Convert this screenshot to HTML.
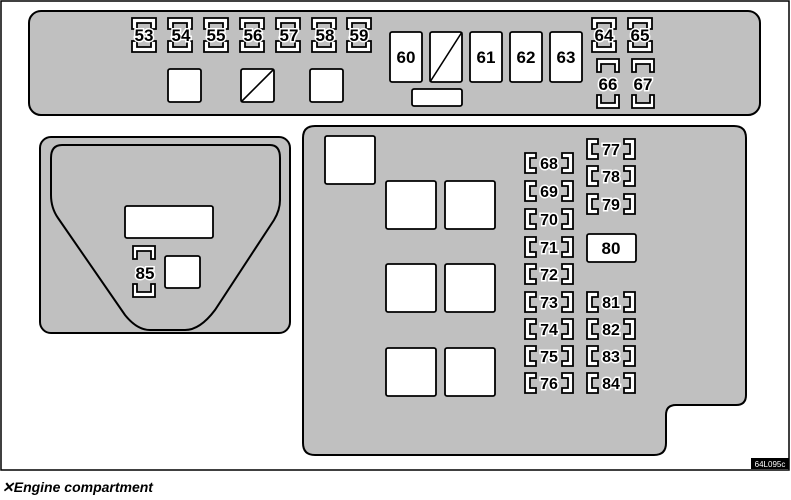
<!DOCTYPE html>
<html><head><meta charset="utf-8"><style>
body{margin:0;background:#fff;}
svg{display:block;}
text{font-family:"Liberation Sans",Arial,sans-serif;font-weight:bold;}
.n{font-size:17px;text-anchor:middle;stroke:#fff;stroke-width:3px;paint-order:stroke;fill:#000;}
.s{font-size:16px;text-anchor:middle;stroke:#fff;stroke-width:3px;paint-order:stroke;fill:#000;}
.b{fill:#fff;stroke:#000;stroke-width:1.8;}
</style></head><body>
<svg width="791" height="500" viewBox="0 0 791 500" xmlns="http://www.w3.org/2000/svg">
<defs>
<path id="T" d="M0,0 H24 V11 H19 V5 H5 V11 H0 Z" class="b"/>
<path id="U" d="M0,0 H5 V6 H19 V0 H24 V11 H0 Z" class="b"/>
<path id="TV" d="M0,0 H22 V13 H18 V5 H4 V13 H0 Z" class="b"/>
<path id="UV" d="M0,0 H4 V8 H18 V0 H22 V13 H0 Z" class="b"/>
<path id="L" d="M0,0 H11 V5 H5 V15 H11 V20 H0 Z" class="b"/>
<path id="R" d="M0,0 H11 V20 H0 V15 H6 V5 H0 Z" class="b"/>
</defs>
<rect x="1" y="1" width="788" height="469" fill="#fff" stroke="#000" stroke-width="1.5"/>
<rect x="29" y="11" width="731" height="104" rx="12" fill="#c0c0c0" stroke="#000" stroke-width="2"/>
<g>
<use href="#T" x="132" y="18"/><use href="#U" x="132" y="41"/><text class="n" x="144" y="41">53</text>
<use href="#T" x="168" y="18"/><use href="#U" x="168" y="41"/><text class="n" x="181" y="41">54</text>
<use href="#T" x="204" y="18"/><use href="#U" x="204" y="41"/><text class="n" x="216" y="41">55</text>
<use href="#T" x="240" y="18"/><use href="#U" x="240" y="41"/><text class="n" x="253" y="41">56</text>
<use href="#T" x="276" y="18"/><use href="#U" x="276" y="41"/><text class="n" x="289" y="41">57</text>
<use href="#T" x="312" y="18"/><use href="#U" x="312" y="41"/><text class="n" x="325" y="41">58</text>
<use href="#T" x="347" y="18"/><use href="#U" x="347" y="41"/><text class="n" x="359" y="41">59</text>
</g>
<rect x="168" y="69" width="33" height="33" rx="2" class="b"/>
<rect x="241" y="69" width="33" height="33" rx="2" class="b"/><line x1="241" y1="102" x2="274" y2="69" stroke="#000" stroke-width="1.6"/>
<rect x="310" y="69" width="33" height="33" rx="2" class="b"/>
<rect x="390" y="32" width="32" height="50" rx="2" class="b"/><text class="n" x="406" y="63">60</text>
<rect x="430" y="32" width="32" height="50" rx="2" class="b"/><line x1="430" y1="82" x2="462" y2="32" stroke="#000" stroke-width="1.6"/>
<rect x="470" y="32" width="32" height="50" rx="2" class="b"/><text class="n" x="486" y="63">61</text>
<rect x="510" y="32" width="32" height="50" rx="2" class="b"/><text class="n" x="526" y="63">62</text>
<rect x="550" y="32" width="32" height="50" rx="2" class="b"/><text class="n" x="566" y="63">63</text>
<rect x="412" y="89" width="50" height="17" rx="2" class="b"/>
<use href="#T" x="592" y="18"/><use href="#U" x="592" y="41"/><text class="n" x="604" y="41">64</text>
<use href="#T" x="628" y="18"/><use href="#U" x="628" y="41"/><text class="n" x="640" y="41">65</text>
<use href="#TV" x="597" y="59"/><use href="#UV" x="597" y="95"/><text class="n" x="608" y="90">66</text>
<use href="#TV" x="632" y="59"/><use href="#UV" x="632" y="95"/><text class="n" x="643" y="90">67</text>
<rect x="40" y="137" width="250" height="196" rx="11" fill="#c0c0c0" stroke="#000" stroke-width="2"/>
<path d="M62,145 H270 Q280,145 280,158 V200 Q280,210 274,220 L215,310 Q200,330 185,330 H150 Q137,330 125,315 L58,218 Q51,208 51,195 V158 Q51,145 62,145 Z" fill="none" stroke="#000" stroke-width="2"/>
<rect x="125" y="206" width="88" height="32" rx="2" class="b"/>
<use href="#TV" x="133" y="246"/><use href="#UV" x="133" y="284"/><text class="n" x="145" y="279">85</text>
<rect x="165" y="256" width="35" height="32" rx="2" class="b"/>
<path d="M315,126 H734 Q746,126 746,138 V395 Q746,405 736,405 H676 Q666,405 666,415 V443 Q666,455 654,455 H315 Q303,455 303,443 V138 Q303,126 315,126 Z" fill="#c0c0c0" stroke="#000" stroke-width="2"/>
<rect x="325" y="136" width="50" height="48" rx="2" class="b"/>
<rect x="386" y="181" width="50" height="48" rx="2" class="b"/><rect x="445" y="181" width="50" height="48" rx="2" class="b"/>
<rect x="386" y="264" width="50" height="48" rx="2" class="b"/><rect x="445" y="264" width="50" height="48" rx="2" class="b"/>
<rect x="386" y="348" width="50" height="48" rx="2" class="b"/><rect x="445" y="348" width="50" height="48" rx="2" class="b"/>
<g>
<use href="#L" x="525" y="153"/><use href="#R" x="562" y="153"/><text class="s" x="549" y="169">68</text>
<use href="#L" x="525" y="181"/><use href="#R" x="562" y="181"/><text class="s" x="549" y="197">69</text>
<use href="#L" x="525" y="209"/><use href="#R" x="562" y="209"/><text class="s" x="549" y="225">70</text>
<use href="#L" x="525" y="237"/><use href="#R" x="562" y="237"/><text class="s" x="549" y="253">71</text>
<use href="#L" x="525" y="264"/><use href="#R" x="562" y="264"/><text class="s" x="549" y="280">72</text>
<use href="#L" x="525" y="292"/><use href="#R" x="562" y="292"/><text class="s" x="549" y="308">73</text>
<use href="#L" x="525" y="319"/><use href="#R" x="562" y="319"/><text class="s" x="549" y="335">74</text>
<use href="#L" x="525" y="346"/><use href="#R" x="562" y="346"/><text class="s" x="549" y="362">75</text>
<use href="#L" x="525" y="373"/><use href="#R" x="562" y="373"/><text class="s" x="549" y="389">76</text>
<use href="#L" x="587" y="139"/><use href="#R" x="624" y="139"/><text class="s" x="611" y="155">77</text>
<use href="#L" x="587" y="166"/><use href="#R" x="624" y="166"/><text class="s" x="611" y="182">78</text>
<use href="#L" x="587" y="194"/><use href="#R" x="624" y="194"/><text class="s" x="611" y="210">79</text>
<use href="#L" x="587" y="292"/><use href="#R" x="624" y="292"/><text class="s" x="611" y="308">81</text>
<use href="#L" x="587" y="319"/><use href="#R" x="624" y="319"/><text class="s" x="611" y="335">82</text>
<use href="#L" x="587" y="346"/><use href="#R" x="624" y="346"/><text class="s" x="611" y="362">83</text>
<use href="#L" x="587" y="373"/><use href="#R" x="624" y="373"/><text class="s" x="611" y="389">84</text>
</g>
<rect x="587" y="234" width="49" height="28" rx="2" class="b"/><text class="n" x="611" y="254" style="stroke:none">80</text>
<rect x="751" y="458" width="38" height="11" fill="#000"/>
<text x="770" y="467" style="font-size:8px;font-weight:normal;fill:#fff;text-anchor:middle">64L095c</text>
<text x="2" y="492" style="font-size:14px;font-style:italic;font-weight:bold">✕Engine compartment</text>
</svg>
</body></html>
